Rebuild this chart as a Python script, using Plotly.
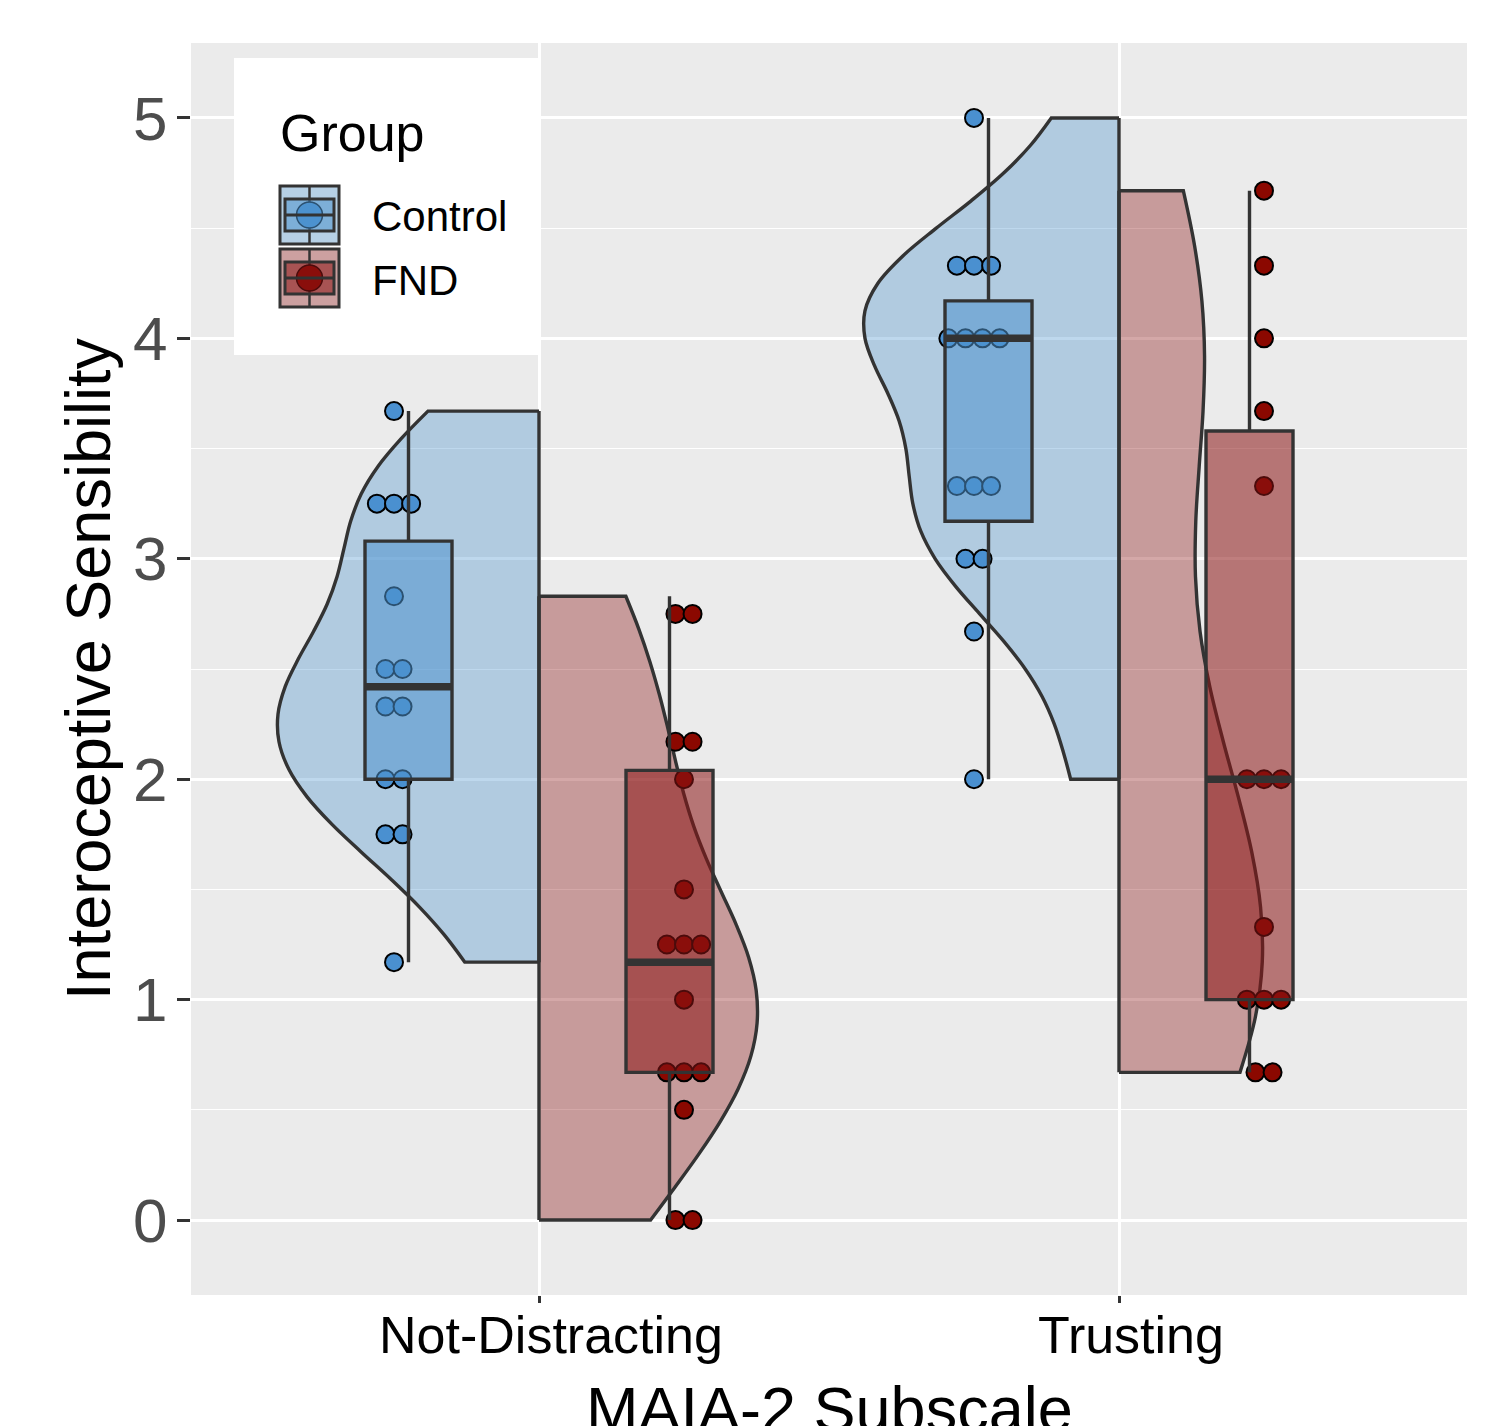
import numpy as np
import plotly.graph_objects as go

# ---------------- data ----------------
categories = ["Not-Distracting", "Trusting"]
group_names = ["Control", "FND"]
x_title = "MAIA-2 Subscale"
y_title = "Interoceptive Sensibility"

# raw subscale scores (used for the half-violins)
control_not_distracting = [3.67, 3.25, 3.25, 3.25, 2.83, 2.5, 2.5, 2.33, 2.33,
                           2.0, 2.0, 1.75, 1.75, 1.17]
fnd_not_distracting = [2.83, 2.83, 2.17, 2.17, 2.0, 1.5, 1.25, 1.25, 1.25, 1.0,
                       0.67, 0.67, 0.67, 0.5, 0.0, 0.0]
control_trusting = [5.0, 4.33, 4.33, 4.33, 4.0, 4.0, 4.0, 4.0, 3.33, 3.33, 3.33,
                    3.0, 3.0, 2.67, 2.0]
fnd_trusting = [4.67, 4.33, 4.0, 3.67, 3.33, 2.0, 2.0, 2.0, 1.33, 1.0, 1.0, 1.0,
                0.67, 0.67]

# dot positions as shown by the (binned) dot layer
control_not_distracting_dots = [3.67, 3.25, 3.25, 3.25, 2.83, 2.5, 2.5, 2.33, 2.33,
                                2.0, 2.0, 1.75, 1.75, 1.17]
fnd_not_distracting_dots = [2.75, 2.75, 2.17, 2.17, 2.0, 1.5, 1.25, 1.25, 1.25, 1.0,
                            0.67, 0.67, 0.67, 0.5, 0.0, 0.0]
control_trusting_dots = [5.0, 4.33, 4.33, 4.33, 4.0, 4.0, 4.0, 4.0, 3.33, 3.33, 3.33,
                         3.0, 3.0, 2.67, 2.0]
fnd_trusting_dots = [4.67, 4.33, 4.0, 3.67, 3.33, 2.0, 2.0, 2.0, 1.33, 1.0, 1.0, 1.0,
                     0.67, 0.67]

# box statistics: lower whisker, Q1, median, Q3, upper whisker
control_not_distracting_box = [1.17, 2.00, 2.42, 3.08, 3.67]
fnd_not_distracting_box = [0.00, 0.67, 1.17, 2.04, 2.83]
control_trusting_box = [2.00, 3.17, 4.00, 4.17, 5.00]
fnd_trusting_box = [0.67, 1.00, 2.00, 3.58, 4.67]

y_ticks = [0, 1, 2, 3, 4, 5]

# ---------------- styling ----------------
FONT = "Liberation Sans, Arial, Helvetica, sans-serif"
LINE = "#333333"
dot_color = {"Control": "rgb(74,144,208)", "FND": "rgb(139,8,0)"}
base_rgb = {"Control": "79,148,205", "FND": "139,20,20"}
violin_fill = {g: f"rgba({c},0.37)" for g, c in base_rgb.items()}
box_fill = {g: f"rgba({c},0.55)" for g, c in base_rgb.items()}
side = {"Control": "negative", "FND": "positive"}
sign = {"Control": -1, "FND": 1}

panels = [
    (0, "Control", control_not_distracting, control_not_distracting_dots, control_not_distracting_box, 0.450),
    (0, "FND", fnd_not_distracting, fnd_not_distracting_dots, fnd_not_distracting_box, 0.376),
    (1, "Control", control_trusting, control_trusting_dots, control_trusting_box, 0.438),
    (1, "FND", fnd_trusting, fnd_trusting_dots, fnd_trusting_box, 0.247),
]

DOT_OFFSET = 0.25
BOX_OFFSET = 0.225
BOX_WIDTH = 0.15
DOT_STEP = 0.0295
LW = 3.4


def nrd0(v):
    v = np.asarray(v, float)
    sd = v.std(ddof=1)
    q75, q25 = np.percentile(v, [75, 25])
    lo = min(sd, (q75 - q25) / 1.34) if q75 > q25 else sd
    return 0.9 * lo * len(v) ** -0.2


def dot_x(values, center):
    xs = []
    seen = {}
    counts = {}
    for v in values:
        counts[v] = counts.get(v, 0) + 1
    for v in values:
        i = seen.get(v, 0)
        seen[v] = i + 1
        k = counts[v]
        xs.append(center + (i - (k - 1) / 2) * DOT_STEP)
    return xs


fig = go.Figure()

# half violins
for ci, g, raw, dots, box, hw in panels:
    fig.add_trace(go.Violin(
        x=[ci] * len(raw), y=raw, side=side[g], width=2 * hw,
        bandwidth=nrd0(raw), spanmode="hard", scalemode="width",
        scalegroup=f"{g}{ci}", points=False, box_visible=False,
        meanline_visible=False, fillcolor=violin_fill[g],
        line=dict(color=LINE, width=LW), name=g, showlegend=False,
        hoverinfo="skip",
    ))
    # flat (centre) side of the half violin
    fig.add_trace(go.Scatter(
        x=[ci, ci], y=[min(raw), max(raw)], mode="lines",
        line=dict(color=LINE, width=LW), showlegend=False, hoverinfo="skip",
    ))

# dots
for ci, g, raw, dots, box, hw in panels:
    fig.add_trace(go.Scatter(
        x=dot_x(dots, ci + sign[g] * DOT_OFFSET), y=dots, mode="markers",
        marker=dict(size=18, color=dot_color[g], line=dict(color="black", width=2)),
        showlegend=False, name=g,
    ))

# boxes on an overlaying axis so they sit above the dots
for ci, g, raw, dots, box, hw in panels:
    c = ci + sign[g] * BOX_OFFSET
    fig.add_trace(go.Box(
        x=[c], lowerfence=[box[0]], q1=[box[1]], median=[box[2]], q3=[box[3]],
        upperfence=[box[4]], width=BOX_WIDTH, whiskerwidth=0, boxpoints=False,
        fillcolor=box_fill[g], line=dict(color=LINE, width=LW),
        xaxis="x2", yaxis="y", showlegend=False, name=g,
    ))
    fig.add_trace(go.Scatter(
        x=[c - BOX_WIDTH / 2, c + BOX_WIDTH / 2], y=[box[2], box[2]], mode="lines",
        line=dict(color=LINE, width=7.5), xaxis="x2", yaxis="y",
        showlegend=False, hoverinfo="skip",
    ))

# ---------------- layout ----------------
# page geometry (the browser puts the figure 8 px in from the top-left corner)
PAGE_W, PAGE_H, OFF = 1490, 1426, 8
L, R, T, B = 191, 1467, 43, 1295          # plot panel in page pixels
W, H = PAGE_W - OFF, PAGE_H - OFF


def pxx(x):
    return (x - L) / (R - L)


def pxy(y):
    return (B - y) / (B - T)


x_range = [-0.6, 1.6]
fig.update_layout(
    width=W, height=H,
    margin=dict(l=L - OFF, r=PAGE_W - R, t=T - OFF, b=PAGE_H - B, pad=0,
                autoexpand=False),
    paper_bgcolor="white", plot_bgcolor="#EBEBEB",
    showlegend=False, violinmode="overlay", boxmode="overlay",
    font=dict(family=FONT, color="black"),
    xaxis=dict(
        range=x_range, tickmode="array", tickvals=[0, 1], ticktext=categories,
        showgrid=True, gridcolor="white", gridwidth=2.5, zeroline=False,
        ticks="outside", ticklen=7, tickwidth=3, tickcolor=LINE,
        tickfont=dict(size=52, color="black", family=FONT), ticklabelshift=12,
        ticklabelstandoff=-12, automargin=False,
        showline=False,
    ),
    xaxis2=dict(range=x_range, overlaying="x", matches="x", visible=False,
                automargin=False),
    yaxis=dict(
        range=[-0.34, 5.34], tickmode="array", tickvals=y_ticks,
        ticktext=[str(t) for t in y_ticks],
        showgrid=True, gridcolor="white", gridwidth=2.5, zeroline=False,
        minor=dict(tickmode="linear", tick0=0, dtick=0.5, showgrid=True,
                   gridcolor="white", gridwidth=1.2, ticks=""),
        ticks="outside", ticklen=13, tickwidth=3, tickcolor=LINE,
        tickfont=dict(size=62, color="#4D4D4D", family=FONT),
        ticklabelstandoff=-3, automargin=False,
        title=dict(text=y_title, standoff=2,
                   font=dict(size=63, color="black", family=FONT)),
        showline=False,
    ),
)

# x-axis title: placed as text below the panel (it runs off the bottom edge,
# as in the reference, which plotly's own title cannot do)
annotations = [dict(text=x_title, x=0.5, y=pxy(1372), xref="paper", yref="paper",
                    xanchor="center", yanchor="top", showarrow=False,
                    font=dict(size=63, color="black", family=FONT))]

# ---------------- legend (drawn like ggplot's key) ----------------
shapes = [dict(type="rect", xref="paper", yref="paper", x0=pxx(234), x1=pxx(540),
               y0=pxy(355), y1=pxy(58), fillcolor="white", line=dict(width=0), layer="above")]
annotations.append(dict(text="Group", x=pxx(278), y=pxy(133), xref="paper", yref="paper",
                        xanchor="left", yanchor="middle", showarrow=False,
                        font=dict(size=52, color="black", family=FONT)))
for k, g in enumerate(group_names):
    top = 186 + 63 * k
    bot = top + 58
    cy = (top + bot) / 2
    shapes += [
        dict(type="rect", xref="paper", yref="paper", x0=pxx(280), x1=pxx(339),
             y0=pxy(bot), y1=pxy(top), fillcolor="#F2F2F2",
             line=dict(width=0), layer="above"),
        dict(type="rect", xref="paper", yref="paper", x0=pxx(280), x1=pxx(339),
             y0=pxy(bot), y1=pxy(top), fillcolor=violin_fill[g],
             line=dict(color=LINE, width=3), layer="above"),
        dict(type="line", xref="paper", yref="paper", x0=pxx(309.5), x1=pxx(309.5),
             y0=pxy(bot), y1=pxy(top), line=dict(color=LINE, width=2.5), layer="above"),
        dict(type="circle", xref="paper", yref="paper", x0=pxx(296.5), x1=pxx(322.5),
             y0=pxy(cy + 13), y1=pxy(cy - 13), fillcolor=dot_color[g],
             line=dict(color="black", width=1.5), layer="above"),
        dict(type="rect", xref="paper", yref="paper", x0=pxx(285), x1=pxx(334),
             y0=pxy(cy + 16), y1=pxy(cy - 16), fillcolor=box_fill[g],
             line=dict(color=LINE, width=3), layer="above"),
        dict(type="line", xref="paper", yref="paper", x0=pxx(285), x1=pxx(334),
             y0=pxy(cy), y1=pxy(cy), line=dict(color=LINE, width=3), layer="above"),
    ]
    annotations.append(dict(text=g, x=pxx(370), y=pxy(cy + 2), xref="paper", yref="paper",
                            xanchor="left", yanchor="middle", showarrow=False,
                            font=dict(size=42, color="black", family=FONT)))

fig.update_layout(shapes=shapes, annotations=annotations)

fig.write_html("out.html")
